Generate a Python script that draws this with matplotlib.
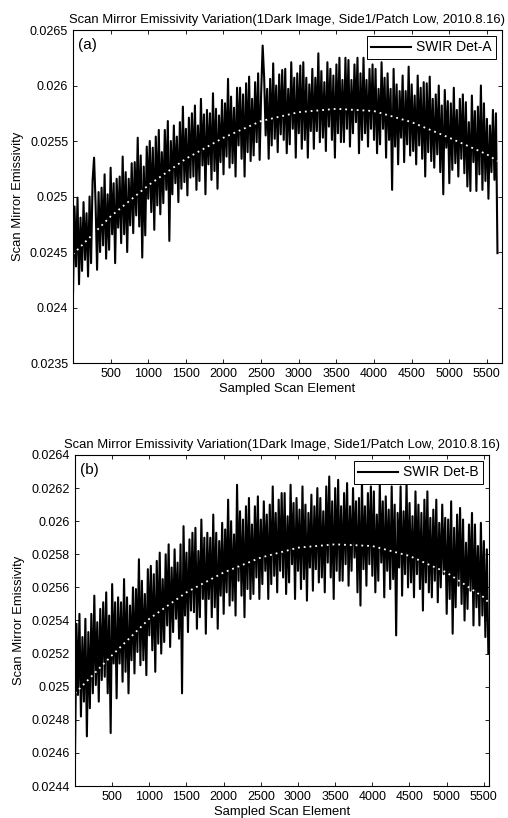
import numpy as np
import matplotlib.pyplot as plt

plt.rcParams['font.family'] = ['Liberation Sans', 'DejaVu Sans']

title = 'Scan Mirror Emissivity Variation(1Dark Image, Side1/Patch Low, 2010.8.16)'

# emissivity, in units of 1e-5, one value every 20 scan elements
det_a = [
    2412, 2491, 2437, 2499, 2421, 2481, 2433, 2495, 2443, 2485,
    2428, 2500, 2440, 2514, 2535, 2494, 2434, 2504, 2450, 2508,
    2456, 2520, 2444, 2502, 2452, 2526, 2466, 2512, 2440, 2516,
    2472, 2518, 2458, 2536, 2466, 2522, 2450, 2516, 2474, 2530,
    2467, 2531, 2483, 2553, 2473, 2537, 2445, 2527, 2465, 2545,
    2498, 2550, 2486, 2544, 2470, 2554, 2492, 2560, 2484, 2540,
    2494, 2560, 2506, 2568, 2460, 2550, 2502, 2564, 2512, 2554,
    2495, 2567, 2507, 2581, 2513, 2561, 2501, 2571, 2517, 2575,
    2518, 2582, 2506, 2564, 2514, 2588, 2528, 2574, 2502, 2578,
    2529, 2575, 2515, 2593, 2523, 2579, 2507, 2573, 2531, 2587,
    2520, 2584, 2536, 2606, 2526, 2590, 2530, 2580, 2518, 2598,
    2546, 2598, 2534, 2592, 2518, 2602, 2540, 2608, 2532, 2588,
    2537, 2603, 2549, 2611, 2533, 2593, 2636, 2607, 2555, 2597,
    2534, 2606, 2546, 2620, 2552, 2600, 2540, 2610, 2556, 2614,
    2551, 2615, 2539, 2597, 2547, 2621, 2561, 2607, 2535, 2611,
    2557, 2618, 2543, 2621, 2551, 2607, 2535, 2601, 2559, 2615,
    2543, 2607, 2559, 2629, 2549, 2613, 2553, 2603, 2541, 2621,
    2563, 2615, 2551, 2609, 2535, 2619, 2557, 2625, 2549, 2605,
    2549, 2625, 2561, 2623, 2545, 2605, 2557, 2619, 2567, 2625,
    2539, 2611, 2551, 2625, 2557, 2605, 2545, 2615, 2561, 2619,
    2551, 2615, 2539, 2597, 2547, 2621, 2561, 2607, 2535, 2611,
    2551, 2597, 2506, 2615, 2545, 2601, 2529, 2595, 2553, 2609,
    2531, 2595, 2547, 2617, 2537, 2601, 2541, 2591, 2529, 2609,
    2546, 2598, 2534, 2603, 2518, 2602, 2540, 2608, 2532, 2588,
    2526, 2592, 2538, 2600, 2522, 2582, 2502, 2596, 2544, 2586,
    2512, 2584, 2524, 2598, 2530, 2578, 2518, 2588, 2534, 2592,
    2521, 2585, 2509, 2567, 2505, 2591, 2531, 2577, 2505, 2581,
    2520, 2600, 2506, 2584, 2514, 2570, 2498, 2564, 2522, 2578,
    2515, 2575, 2449,
]
det_b = [
    2456, 2538, 2495, 2544, 2482, 2530, 2491, 2541, 2470, 2533,
    2487, 2544, 2496, 2555, 2501, 2539, 2491, 2547, 2504, 2551,
    2506, 2557, 2496, 2543, 2472, 2562, 2514, 2551, 2493, 2554,
    2514, 2551, 2503, 2565, 2509, 2554, 2496, 2549, 2516, 2560,
    2508, 2559, 2521, 2577, 2513, 2564, 2516, 2556, 2507, 2571,
    2531, 2573, 2522, 2568, 2509, 2576, 2526, 2581, 2520, 2565,
    2527, 2580, 2537, 2586, 2524, 2572, 2533, 2583, 2541, 2575,
    2529, 2586, 2496, 2597, 2543, 2581, 2533, 2589, 2546, 2593,
    2545, 2596, 2535, 2582, 2542, 2601, 2553, 2590, 2532, 2593,
    2553, 2590, 2542, 2604, 2548, 2593, 2535, 2588, 2555, 2599,
    2544, 2595, 2557, 2613, 2549, 2600, 2552, 2592, 2543, 2622,
    2564, 2606, 2555, 2601, 2542, 2609, 2559, 2614, 2553, 2598,
    2556, 2609, 2566, 2615, 2553, 2601, 2562, 2612, 2570, 2604,
    2553, 2610, 2562, 2621, 2567, 2605, 2557, 2613, 2570, 2617,
    2566, 2617, 2556, 2603, 2563, 2622, 2574, 2611, 2553, 2614,
    2570, 2607, 2559, 2621, 2565, 2610, 2552, 2605, 2572, 2616,
    2558, 2609, 2571, 2620, 2563, 2614, 2566, 2606, 2557, 2621,
    2575, 2627, 2566, 2612, 2553, 2620, 2570, 2625, 2564, 2609,
    2564, 2617, 2574, 2623, 2561, 2609, 2570, 2620, 2578, 2612,
    2557, 2614, 2549, 2625, 2571, 2609, 2561, 2617, 2574, 2621,
    2567, 2618, 2557, 2604, 2564, 2623, 2575, 2612, 2554, 2615,
    2570, 2607, 2559, 2621, 2565, 2610, 2531, 2605, 2572, 2621,
    2555, 2606, 2568, 2624, 2560, 2611, 2563, 2603, 2554, 2618,
    2568, 2610, 2559, 2605, 2546, 2613, 2563, 2618, 2557, 2602,
    2554, 2607, 2564, 2613, 2551, 2599, 2560, 2610, 2568, 2602,
    2544, 2601, 2553, 2612, 2532, 2596, 2548, 2604, 2561, 2608,
    2550, 2601, 2540, 2587, 2547, 2598, 2558, 2605, 2537, 2598,
    2548, 2585, 2537, 2599, 2543, 2588, 2530, 2583, 2520,
]

# fitted curves (white dotted), 1e-5 units
fit_x_a = [1, 500, 1000, 1500, 2000, 2500, 3000, 3500, 4000, 4500, 5000, 5500, 5641]
fit_a = [2448, 2482, 2510, 2534, 2553, 2568, 2576, 2579, 2577, 2567, 2553, 2538, 2532]
fit_x_b = [1, 500, 1000, 1500, 2000, 2500, 3000, 3500, 4000, 4500, 5000, 5500, 5561]
fit_b = [2496, 2519, 2541, 2557, 2569, 2578, 2584, 2586, 2585, 2579, 2569, 2554, 2551]

xa = np.arange(len(det_a)) * 20 + 1
xb = np.arange(len(det_b)) * 20 + 1
ya = np.array(det_a) * 1e-5
yb = np.array(det_b) * 1e-5

fig = plt.figure(figsize=(5.08, 8.18), dpi=100)
ax1 = fig.add_axes([0.1437, 0.5562, 0.8443, 0.4071])
ax2 = fig.add_axes([0.1476, 0.0391, 0.815, 0.4047])

panels = [
    (ax1, xa, ya, fit_x_a, fit_a, 'SWIR Det-A', '(a)', 5700, (0.0235, 0.0265), 0.0005, -0.115),
    (ax2, xb, yb, fit_x_b, fit_b, 'SWIR Det-B', '(b)', 5570, (0.0244, 0.0264), 0.0002, -0.12),
]

for ax, x, y, fx, fy, lab, tag, xmax, ylim, ystep, ylab_x in panels:
    ax.plot(x, y, color='black', lw=1.5, label=lab)
    ax.plot(fx, np.array(fy) * 1e-5, color='white', lw=1.3, ls=(0, (1, 2.2)))
    ax.set_xlim(1, xmax)
    ax.set_ylim(*ylim)
    ax.set_xticks(np.arange(500, 5501, 500))
    ax.set_yticks(np.arange(ylim[0], ylim[1] + ystep / 2, ystep))
    ax.set_yticklabels(['%g' % round(v, 5) for v in ax.get_yticks()])
    ax.tick_params(direction='in', top=True, right=True, labelsize=9, length=3, width=0.6)
    for s in ax.spines.values():
        s.set_linewidth(0.8)
    ax.set_title(title, fontsize=9.4, pad=5)
    ax.set_xlabel('Sampled Scan Element', fontsize=9.4, labelpad=2)
    ax.set_ylabel('Scan Mirror Emissivity', fontsize=9.4)
    ax.yaxis.set_label_coords(ylab_x, 0.5)
    ax.text(0.012, 0.975, tag, transform=ax.transAxes, fontsize=11, va='top', ha='left')
    leg = ax.legend(loc='upper right', fontsize=10, handlelength=2.9, handletextpad=0.35,
                    borderpad=0.3, fancybox=False, framealpha=1, edgecolor='black',
                    borderaxespad=0.45)
    leg.get_frame().set_linewidth(0.7)

fig.savefig('out.png', dpi=100)
